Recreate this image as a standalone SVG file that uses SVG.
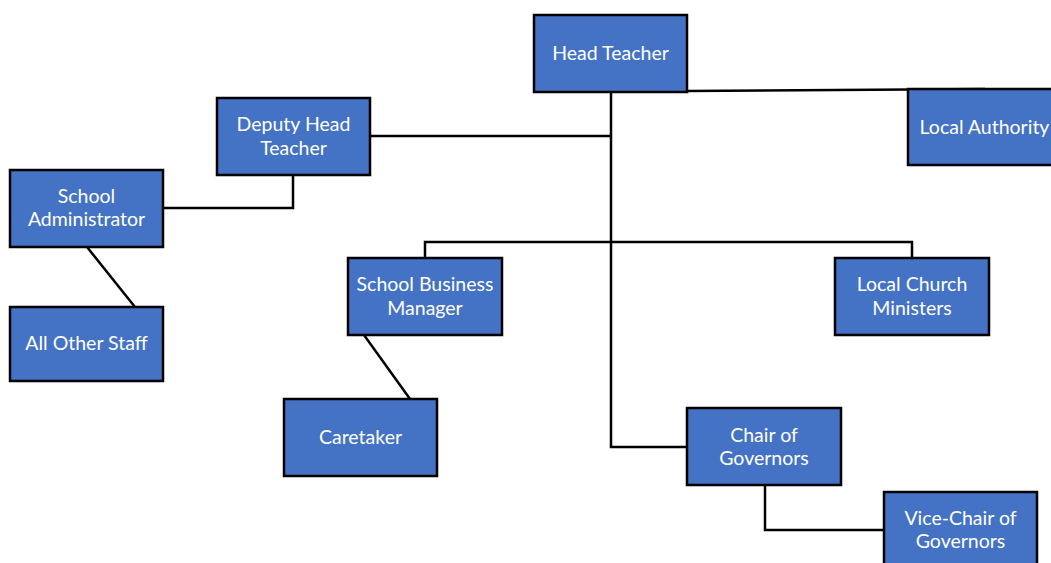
<svg xmlns="http://www.w3.org/2000/svg" width="1051" height="563" viewBox="0 0 1051 563">
<style>
.box{fill:#4472C4;stroke:#000;stroke-width:2.5}
.t{font-family:Lato,"Open Sans",sans-serif;font-size:19.5px;fill:#fff;text-anchor:middle}
.c{fill:none;stroke:#000;stroke-width:2.5}
</style>
<rect width="1051" height="563" fill="#fff"/>
<g id="connectors">
<path class="c" d="M611,92 V447 H687"/>
<path class="c" d="M687,91 L985,89"/>
<path class="c" d="M370,136 H611"/>
<path class="c" d="M163,208 H293 V175"/>
<path class="c" d="M87,247 L135,307"/>
<path class="c" d="M425,258 V242 H912 V258"/>
<path class="c" d="M364,335 L410,399"/>
<path class="c" d="M765,485 V530 H884"/>
</g>
<g id="head-teacher"><rect class="box" x="534" y="15" width="153" height="77"/><text class="t" x="610.5" y="60">Head Teacher</text></g>
<g id="local-authority"><rect class="box" x="908" y="89" width="153" height="76"/><text class="t" x="984.5" y="134">Local Authority</text></g>
<g id="deputy-head"><rect class="box" x="217" y="98" width="153" height="77"/><text class="t" x="293.5" y="131">Deputy Head</text><text class="t" x="293.5" y="155">Teacher</text></g>
<g id="school-administrator"><rect class="box" x="10" y="170" width="153" height="77"/><text class="t" x="86.5" y="203">School</text><text class="t" x="86.5" y="226">Administrator</text></g>
<g id="all-other-staff"><rect class="box" x="10" y="307" width="153" height="74"/><text class="t" x="86.5" y="350">All Other Staff</text></g>
<g id="school-business-manager"><rect class="box" x="348" y="258" width="154" height="77"/><text class="t" x="425" y="291">School Business</text><text class="t" x="425" y="315">Manager</text></g>
<g id="local-church-ministers"><rect class="box" x="835" y="258" width="154" height="77"/><text class="t" x="912" y="291">Local Church</text><text class="t" x="912" y="315">Ministers</text></g>
<g id="caretaker"><rect class="box" x="284" y="399" width="153" height="77"/><text class="t" x="360.5" y="444">Caretaker</text></g>
<g id="chair-of-governors"><rect class="box" x="687" y="408" width="154" height="77"/><text class="t" x="764" y="442">Chair of</text><text class="t" x="764" y="465">Governors</text></g>
<g id="vice-chair"><rect class="box" x="884" y="492" width="153" height="77"/><text class="t" x="960.5" y="525">Vice-Chair of</text><text class="t" x="960.5" y="548">Governors</text></g>
</svg>
